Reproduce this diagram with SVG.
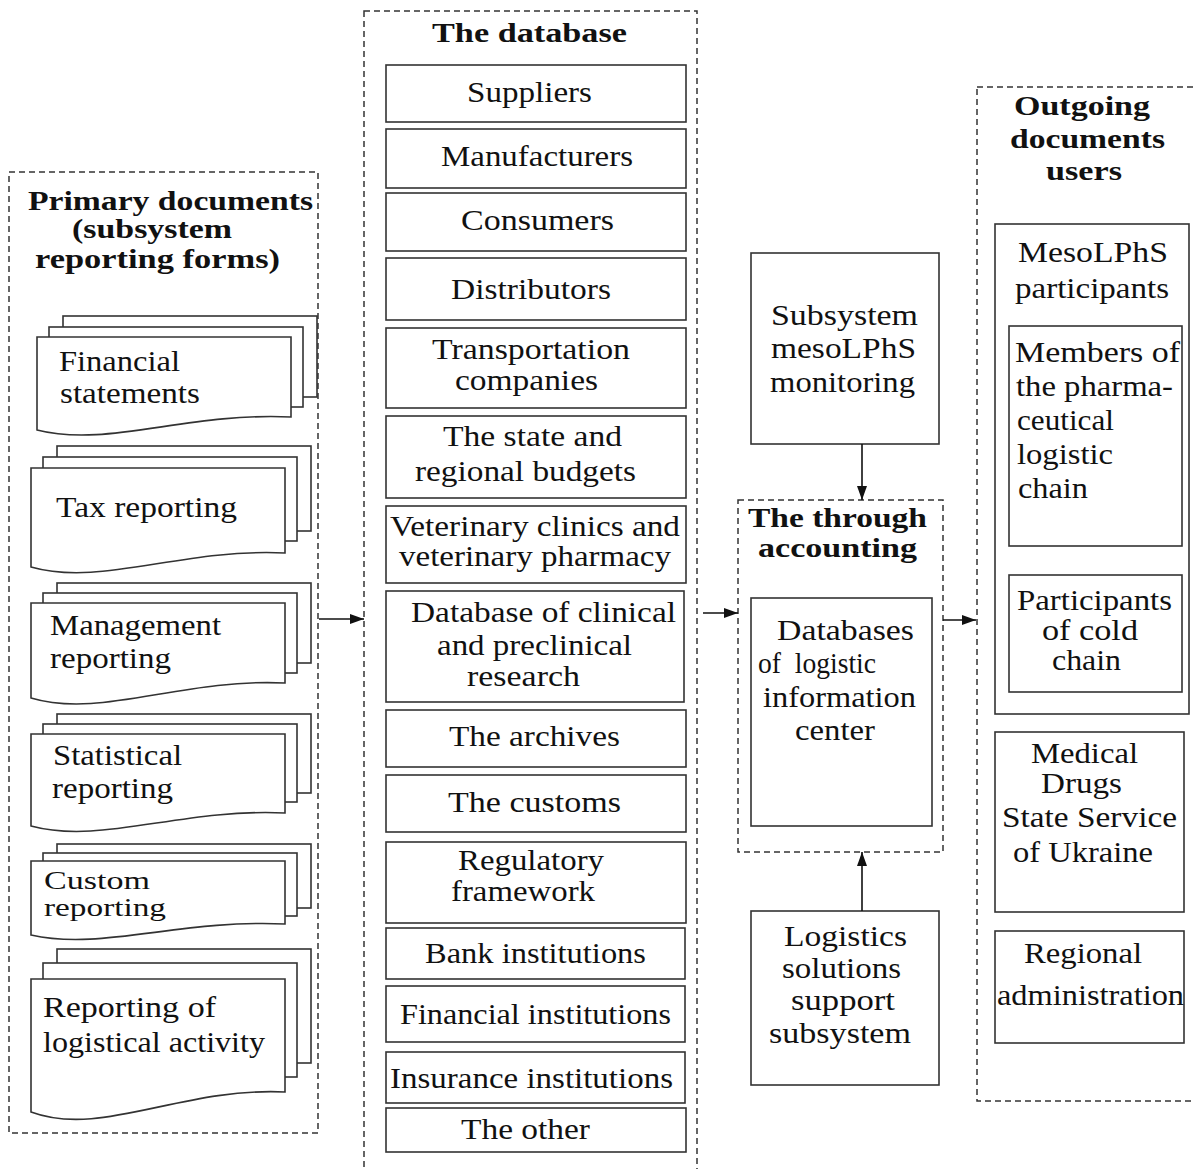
<svg xmlns="http://www.w3.org/2000/svg" width="1194" height="1169" viewBox="0 0 1194 1169">
<style>
.bg{fill:#fff}
.dash{fill:none;stroke:#333;stroke-width:1.5;stroke-dasharray:6 4}
.box{fill:#fff;stroke:#333;stroke-width:1.6}
.t{font-family:"Liberation Serif","Times New Roman",serif;font-size:29px;fill:#111;white-space:pre}
.b{font-weight:bold;font-size:27px}
.s{font-size:25px}
.ln{fill:none;stroke:#111;stroke-width:1.6}
</style>
<defs>
<marker id="ah" viewBox="0 0 14 10" refX="14" refY="5" markerWidth="14" markerHeight="10" markerUnits="userSpaceOnUse" orient="auto">
<path d="M0,0 L14,5 L0,10 Z" fill="#111"/>
</marker>
</defs>
<rect class="bg" x="0" y="0" width="1194" height="1169"/>

<!-- containers -->
<g id="primary-documents">
<rect class="dash" x="9" y="172" width="309" height="961"/>
<text class="t b" x="28" y="210" textLength="285" lengthAdjust="spacingAndGlyphs">Primary documents</text>
<text class="t b" x="72" y="238" textLength="160" lengthAdjust="spacingAndGlyphs">(subsystem</text>
<text class="t b" x="35" y="268" textLength="245" lengthAdjust="spacingAndGlyphs">reporting forms)</text>
</g>
<g id="database">
<rect class="dash" x="364" y="11" width="333" height="1175"/>
<text class="t b" x="432" y="42" textLength="195" lengthAdjust="spacingAndGlyphs">The database</text>
</g>
<g id="through-accounting">
<rect class="dash" x="738" y="500" width="205" height="352"/>
<text class="t b" x="748" y="527" textLength="179" lengthAdjust="spacingAndGlyphs">The through</text>
<text class="t b" x="758" y="557" textLength="159" lengthAdjust="spacingAndGlyphs">accounting</text>
</g>
<g id="outgoing-users">
<rect class="dash" x="977" y="87" width="240" height="1014"/>
<text class="t b" x="1014" y="115" textLength="136" lengthAdjust="spacingAndGlyphs">Outgoing</text>
<text class="t b" x="1010" y="148" textLength="155" lengthAdjust="spacingAndGlyphs">documents</text>
<text class="t b" x="1046" y="180" textLength="76" lengthAdjust="spacingAndGlyphs">users</text>
</g>

<!-- document stacks -->
<g id="doc-financial">
<rect class="box" x="63" y="316" width="254" height="81"/>
<rect class="box" x="49" y="327" width="254" height="80"/>
<path class="box" d="M37,337 H291 V417 C187,412 107,448 37,430 Z"/>
<text class="t" x="59" y="371" textLength="121" lengthAdjust="spacingAndGlyphs">Financial</text>
<text class="t" x="60" y="403" textLength="140" lengthAdjust="spacingAndGlyphs">statements</text>
</g>
<g id="doc-tax">
<rect class="box" x="57" y="446" width="254" height="85"/>
<rect class="box" x="43" y="457" width="254" height="84"/>
<path class="box" d="M31,468 H285 V553 C181,548 101,587 31,567 Z"/>
<text class="t" x="56" y="517" textLength="181" lengthAdjust="spacingAndGlyphs">Tax reporting</text>
</g>
<g id="doc-management">
<rect class="box" x="57" y="583" width="254" height="80"/>
<rect class="box" x="43" y="593" width="254" height="80"/>
<path class="box" d="M31,603 H285 V683 C181,678 101,719 31,698 Z"/>
<text class="t" x="50" y="635" textLength="171" lengthAdjust="spacingAndGlyphs">Management</text>
<text class="t" x="50" y="668" textLength="121" lengthAdjust="spacingAndGlyphs">reporting</text>
</g>
<g id="doc-statistical">
<rect class="box" x="57" y="714" width="254" height="79"/>
<rect class="box" x="43" y="724" width="254" height="78"/>
<path class="box" d="M31,734 H285 V813 C181,808 101,845 31,826 Z"/>
<text class="t" x="53" y="765" textLength="129" lengthAdjust="spacingAndGlyphs">Statistical</text>
<text class="t" x="52" y="798" textLength="121" lengthAdjust="spacingAndGlyphs">reporting</text>
</g>
<g id="doc-custom">
<rect class="box" x="57" y="844" width="254" height="64"/>
<rect class="box" x="43" y="853" width="254" height="63"/>
<path class="box" d="M31,861 H285 V924 C181,919 101,951 31,935 Z"/>
<text class="t s" x="44" y="889" textLength="106" lengthAdjust="spacingAndGlyphs">Custom</text>
<text class="t s" x="44" y="916" textLength="122" lengthAdjust="spacingAndGlyphs">reporting</text>
</g>
<g id="doc-logistical">
<rect class="box" x="57" y="949" width="254" height="114"/>
<rect class="box" x="43" y="963" width="254" height="114"/>
<path class="box" d="M31,979 H285 V1092 C181,1087 101,1138 31,1112 Z"/>
<text class="t" x="43" y="1017" textLength="173" lengthAdjust="spacingAndGlyphs">Reporting of</text>
<text class="t" x="43" y="1052" textLength="222" lengthAdjust="spacingAndGlyphs">logistical activity</text>
</g>

<!-- database items -->
<g id="db-suppliers"><rect class="box" x="386" y="65" width="300" height="57"/>
<text class="t" x="467" y="102" textLength="125" lengthAdjust="spacingAndGlyphs">Suppliers</text></g>
<g id="db-manufacturers"><rect class="box" x="386" y="129" width="300" height="59"/>
<text class="t" x="441" y="166" textLength="192" lengthAdjust="spacingAndGlyphs">Manufacturers</text></g>
<g id="db-consumers"><rect class="box" x="386" y="193" width="300" height="58"/>
<text class="t" x="461" y="230" textLength="153" lengthAdjust="spacingAndGlyphs">Consumers</text></g>
<g id="db-distributors"><rect class="box" x="386" y="258" width="300" height="62"/>
<text class="t" x="451" y="299" textLength="160" lengthAdjust="spacingAndGlyphs">Distributors</text></g>
<g id="db-transportation"><rect class="box" x="386" y="328" width="300" height="80"/>
<text class="t" x="432" y="359" textLength="198" lengthAdjust="spacingAndGlyphs">Transportation</text>
<text class="t" x="455" y="390" textLength="143" lengthAdjust="spacingAndGlyphs">companies</text></g>
<g id="db-budgets"><rect class="box" x="386" y="416" width="300" height="82"/>
<text class="t" x="443" y="446" textLength="179" lengthAdjust="spacingAndGlyphs">The state and</text>
<text class="t" x="415" y="481" textLength="221" lengthAdjust="spacingAndGlyphs">regional budgets</text></g>
<g id="db-veterinary"><rect class="box" x="386" y="506" width="300" height="77"/>
<text class="t" x="390" y="536" textLength="290" lengthAdjust="spacingAndGlyphs">Veterinary clinics and</text>
<text class="t" x="399" y="566" textLength="272" lengthAdjust="spacingAndGlyphs">veterinary pharmacy</text></g>
<g id="db-clinical"><rect class="box" x="386" y="591" width="298" height="111"/>
<text class="t" x="411" y="622" textLength="265" lengthAdjust="spacingAndGlyphs">Database of clinical</text>
<text class="t" x="437" y="655" textLength="195" lengthAdjust="spacingAndGlyphs">and preclinical</text>
<text class="t" x="467" y="686" textLength="113" lengthAdjust="spacingAndGlyphs">research</text></g>
<g id="db-archives"><rect class="box" x="386" y="710" width="300" height="57"/>
<text class="t" x="449" y="746" textLength="171" lengthAdjust="spacingAndGlyphs">The archives</text></g>
<g id="db-customs"><rect class="box" x="386" y="775" width="300" height="57"/>
<text class="t" x="448" y="812" textLength="173" lengthAdjust="spacingAndGlyphs">The customs</text></g>
<g id="db-regulatory"><rect class="box" x="386" y="842" width="300" height="81"/>
<text class="t" x="458" y="870" textLength="146" lengthAdjust="spacingAndGlyphs">Regulatory</text>
<text class="t" x="451" y="901" textLength="144" lengthAdjust="spacingAndGlyphs">framework</text></g>
<g id="db-bank"><rect class="box" x="386" y="928" width="299" height="51"/>
<text class="t" x="425" y="963" textLength="221" lengthAdjust="spacingAndGlyphs">Bank institutions</text></g>
<g id="db-financial"><rect class="box" x="386" y="986" width="299" height="56"/>
<text class="t" x="400" y="1024" textLength="271" lengthAdjust="spacingAndGlyphs">Financial institutions</text></g>
<g id="db-insurance"><rect class="box" x="386" y="1052" width="299" height="51"/>
<text class="t" x="390" y="1088" textLength="283" lengthAdjust="spacingAndGlyphs">Insurance institutions</text></g>
<g id="db-other"><rect class="box" x="386" y="1108" width="300" height="44"/>
<text class="t" x="461" y="1139" textLength="129" lengthAdjust="spacingAndGlyphs">The other</text></g>

<!-- middle -->
<g id="monitoring"><rect class="box" x="751" y="253" width="188" height="191"/>
<text class="t" x="771" y="325" textLength="147" lengthAdjust="spacingAndGlyphs">Subsystem</text>
<text class="t" x="771" y="358" textLength="145" lengthAdjust="spacingAndGlyphs">mesoLPhS</text>
<text class="t" x="770" y="392" textLength="145" lengthAdjust="spacingAndGlyphs">monitoring</text></g>
<g id="lic-databases"><rect class="box" x="751" y="598" width="181" height="228"/>
<text class="t" x="777" y="640" textLength="137" lengthAdjust="spacingAndGlyphs">Databases</text>
<text class="t" x="758" y="673" textLength="118" lengthAdjust="spacingAndGlyphs">of  logistic</text>
<text class="t" x="763" y="707" textLength="153" lengthAdjust="spacingAndGlyphs">information</text>
<text class="t" x="795" y="740" textLength="80" lengthAdjust="spacingAndGlyphs">center</text></g>
<g id="decision-support"><rect class="box" x="751" y="911" width="188" height="174"/>
<text class="t" x="784" y="946" textLength="123" lengthAdjust="spacingAndGlyphs">Logistics</text>
<text class="t" x="782" y="978" textLength="119" lengthAdjust="spacingAndGlyphs">solutions</text>
<text class="t" x="791" y="1010" textLength="104" lengthAdjust="spacingAndGlyphs">support</text>
<text class="t" x="769" y="1043" textLength="142" lengthAdjust="spacingAndGlyphs">subsystem</text></g>

<!-- right -->
<g id="meso-participants"><rect class="box" x="995" y="224" width="194" height="490"/>
<text class="t" x="1018" y="262" textLength="150" lengthAdjust="spacingAndGlyphs">MesoLPhS</text>
<text class="t" x="1015" y="298" textLength="154" lengthAdjust="spacingAndGlyphs">participants</text></g>
<g id="pharma-chain"><rect class="box" x="1009" y="326" width="173" height="220"/>
<text class="t" x="1015" y="362" textLength="165" lengthAdjust="spacingAndGlyphs">Members of</text>
<text class="t" x="1016" y="396" textLength="157" lengthAdjust="spacingAndGlyphs">the pharma-</text>
<text class="t" x="1017" y="430" textLength="97" lengthAdjust="spacingAndGlyphs">ceutical</text>
<text class="t" x="1017" y="464" textLength="96" lengthAdjust="spacingAndGlyphs">logistic</text>
<text class="t" x="1018" y="498" textLength="70" lengthAdjust="spacingAndGlyphs">chain</text></g>
<g id="cold-chain"><rect class="box" x="1009" y="575" width="173" height="117"/>
<text class="t" x="1017" y="610" textLength="155" lengthAdjust="spacingAndGlyphs">Participants</text>
<text class="t" x="1042" y="640" textLength="96" lengthAdjust="spacingAndGlyphs">of cold</text>
<text class="t" x="1052" y="670" textLength="69" lengthAdjust="spacingAndGlyphs">chain</text></g>
<g id="state-service"><rect class="box" x="995" y="732" width="189" height="180"/>
<text class="t" x="1031" y="763" textLength="107" lengthAdjust="spacingAndGlyphs">Medical</text>
<text class="t" x="1041" y="793" textLength="81" lengthAdjust="spacingAndGlyphs">Drugs</text>
<text class="t" x="1002" y="827" textLength="175" lengthAdjust="spacingAndGlyphs">State Service</text>
<text class="t" x="1013" y="862" textLength="140" lengthAdjust="spacingAndGlyphs">of Ukraine</text></g>
<g id="regional-admin"><rect class="box" x="995" y="931" width="189" height="112"/>
<text class="t" x="1024" y="963" textLength="118" lengthAdjust="spacingAndGlyphs">Regional</text>
<text class="t" x="997" y="1005" textLength="187" lengthAdjust="spacingAndGlyphs">administration</text></g>

<!-- connectors -->
<g id="connectors">
<line class="ln" x1="319" y1="619" x2="364" y2="619" marker-end="url(#ah)"/>
<line class="ln" x1="703" y1="613" x2="738" y2="613" marker-end="url(#ah)"/>
<line class="ln" x1="943" y1="620" x2="976" y2="620" marker-end="url(#ah)"/>
<line class="ln" x1="862" y1="444" x2="862" y2="500" marker-end="url(#ah)"/>
<line class="ln" x1="862" y1="911" x2="862" y2="852" marker-end="url(#ah)"/>
</g>
</svg>
